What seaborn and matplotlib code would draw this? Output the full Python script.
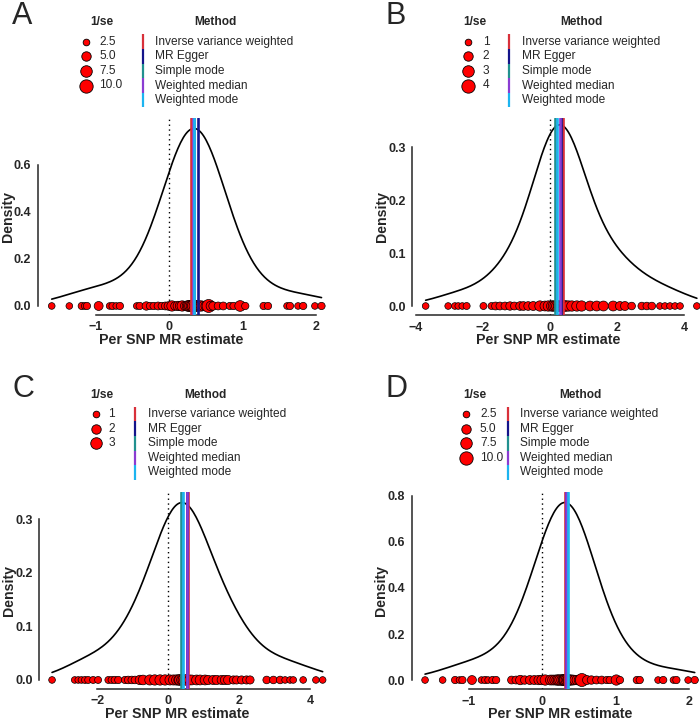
import numpy as np
import matplotlib
matplotlib.use('Agg')
import matplotlib.pyplot as plt
import seaborn as sns

# Dados (estimativas por SNP e 1/se)
beta_a = [-1.60, -1.36, -1.19, -1.15, -1.12, -0.96, -0.81, -0.77, -0.72, -0.67, -0.44, -0.40,
          -0.31, -0.26, -0.21, -0.15, -0.10, -0.05, -0.01, 0.04, 0.08, 0.12, 0.15, 0.18, 0.22,
          0.25, 0.27, 0.29, 0.31, 0.33, 0.35, 0.37, 0.40, 0.42, 0.44, 0.47, 0.50, 0.54, 0.57,
          0.60, 0.67, 0.74, 0.83, 0.88, 0.97, 1.04, 1.29, 1.35, 1.61, 1.65, 1.76, 1.83, 1.99, 2.08]
inv_se_a = [2.5, 2.5, 3.0, 2.5, 3.0, 4.5, 2.5, 3.0, 2.5, 3.0, 2.5, 3.0,
            4.0, 3.0, 3.0, 3.5, 3.0, 3.5, 4.0, 6.0, 4.0, 5.0, 5.0, 6.0, 5.0,
            6.0, 6.5, 7.0, 7.0, 7.5, 7.0, 6.5, 6.0, 5.5, 6.0, 5.0, 5.0, 9.5, 5.0,
            4.0, 3.5, 3.5, 3.0, 3.0, 6.5, 3.0, 3.0, 3.0, 2.5, 3.0, 2.5, 3.0, 2.5, 3.0]

beta_b = [-3.70, -3.03, -2.83, -2.73, -2.61, -2.48, -1.98, -1.74, -1.62, -1.49, -1.34, -1.19,
          -1.06, -0.89, -0.79, -0.65, -0.50, -0.30, -0.15, -0.05, 0.05, 0.10, 0.15, 0.20, 0.25,
          0.28, 0.35, 0.40, 0.45, 0.55, 0.65, 0.80, 0.94, 1.19, 1.39, 1.59, 1.88, 2.08, 2.23,
          2.43, 2.73, 2.88, 3.03, 3.27, 3.42, 3.57, 3.72, 3.87, 4.37]
inv_se_b = [1.0, 1.0, 1.0, 1.0, 1.0, 1.1, 1.1, 1.1, 1.4, 1.4, 1.4, 1.6,
            1.4, 1.7, 1.7, 1.7, 1.8, 2.4, 2.2, 2.4, 2.4, 2.4, 2.4, 2.4, 2.4,
            2.4, 2.4, 2.4, 2.7, 2.4, 2.4, 2.4, 2.4, 2.2, 2.2, 2.2, 2.2, 1.8, 1.8,
            1.3, 1.3, 1.3, 1.3, 1.0, 1.0, 1.0, 1.0, 1.0, 1.0]

beta_c = [-3.28, -2.64, -2.54, -2.45, -2.35, -2.26, -2.12, -1.98, -1.69, -1.60, -1.51, -1.41,
          -1.22, -1.13, -1.03, -0.94, -0.80, -0.71, -0.52, -0.38, -0.23, -0.09, 0.05, 0.15,
          0.24, 0.30, 0.33, 0.38, 0.42, 0.47, 0.52, 0.60, 0.66, 0.80, 0.90, 1.04, 1.13, 1.27,
          1.37, 1.51, 1.60, 1.69, 1.84, 1.93, 2.07, 2.21, 2.31, 2.78, 2.97, 3.16, 3.30, 3.44,
          3.53, 3.81, 4.17, 4.36]
inv_se_c = [1.0, 1.0, 1.0, 1.0, 1.1, 1.1, 1.1, 1.1, 1.1, 1.1, 1.2, 1.2,
            1.2, 1.3, 1.3, 1.3, 2.0, 2.1, 2.3, 2.4, 2.4, 2.4, 2.3, 2.3,
            2.4, 2.3, 2.6, 2.3, 2.3, 2.3, 2.5, 2.2, 2.2, 2.2, 2.2, 2.2, 1.9, 1.9,
            1.9, 1.9, 1.9, 1.9, 1.5, 1.5, 1.5, 1.5, 1.5, 1.3, 1.3, 1.3, 1.0, 1.0,
            1.0, 1.0, 1.0, 1.0]

beta_d = [-1.60, -1.36, -1.19, -1.13, -1.09, -0.96, -0.83, -0.78, -0.74, -0.68, -0.63, -0.42,
          -0.36, -0.30, -0.24, -0.17, -0.11, -0.05, -0.01, 0.04, 0.11, 0.14, 0.17, 0.20, 0.22,
          0.24, 0.27, 0.29, 0.30, 0.31, 0.33, 0.35, 0.36, 0.38, 0.40, 0.42, 0.44, 0.47, 0.50,
          0.54, 0.61, 0.67, 0.74, 0.81, 0.88, 0.92, 1.01, 1.06, 1.29, 1.33, 1.58, 1.65, 1.79,
          1.83, 1.99, 2.08]
inv_se_d = [2.5, 2.5, 3.0, 2.5, 3.0, 4.5, 2.5, 3.0, 2.5, 3.0, 3.0, 3.5,
            3.5, 5.0, 4.0, 4.5, 4.5, 5.0, 5.0, 6.0, 5.5, 5.5, 5.5, 6.0, 6.0,
            6.0, 6.5, 6.5, 6.5, 6.5, 6.5, 6.5, 6.0, 6.0, 5.5, 5.5, 5.0, 5.0, 5.0,
            9.5, 4.5, 4.0, 3.5, 3.5, 3.0, 3.0, 6.0, 3.0, 3.0, 3.0, 2.5, 3.0, 2.5,
            3.0, 2.5, 3.0]

# Estimativas dos métodos MR (linhas verticais)
metodos = ['Inverse variance weighted', 'MR Egger', 'Simple mode', 'Weighted median', 'Weighted mode']
cores_metodos = ['#d8303a', '#14148a', '#21908f', '#8a3cd2', '#1cb4f0']
mr_a = [0.30, 0.39, 0.34, 0.33, 0.345]
mr_b = [0.40, 0.32, 0.15, 0.30, 0.20]
mr_c = [0.56, 0.54, 0.37, 0.52, 0.43]
mr_d = [0.31, 0.33, 0.34, 0.33, 0.35]

# Valores da legenda de tamanho (1/se)
legenda_a = [2.5, 5.0, 7.5, 10.0]
legenda_b = [1, 2, 3, 4]
legenda_c = [1, 2, 3]
legenda_d = [2.5, 5.0, 7.5, 10.0]

# Ticks dos eixos
xticks_a = [-1, 0, 1, 2]
yticks_a = [0.0, 0.2, 0.4, 0.6]
xticks_b = [-4, -2, 0, 2, 4]
yticks_b = [0.0, 0.1, 0.2, 0.3]
xticks_c = [-2, 0, 2, 4]
yticks_c = [0.0, 0.1, 0.2, 0.3]
xticks_d = [-1, 0, 1, 2]
yticks_d = [0.0, 0.2, 0.4, 0.6, 0.8]

LARGURA, ALTURA = 700, 720
S_MAX = 92  # area (pt^2) do maior circulo da legenda


def caixa(l, r, t, b):
    # converte pixels em fração da figura
    return [l / LARGURA, 1 - b / ALTURA, (r - l) / LARGURA, (b - t) / ALTURA]


def desenhar_painel(fig, pos, xlim, ylim, beta, inv_se, mr, norm_max, xticks, yticks, bw, xlab_pos):
    ax = fig.add_axes(pos)
    ax.axvline(0, color='black', linestyle=(0, (1, 2.5)), lw=1.0, zorder=1)
    # densidade ponderada por 1/se^2
    sns.kdeplot(x=beta, weights=np.square(inv_se), cut=0, bw_adjust=bw, color='black', lw=1.2, ax=ax, zorder=2)
    sns.scatterplot(x=beta, y=np.zeros(len(beta)), size=inv_se, sizes=(0, S_MAX), size_norm=(0, norm_max),
                    color='#ff0000', edgecolor='black', linewidth=0.5, legend=False, ax=ax, zorder=3)
    for valor, cor in zip(mr, cores_metodos):
        ax.axvline(valor, color=cor, lw=1.9, zorder=4)
    ax.set_xlim(xlim)
    ax.set_ylim(ylim)
    ax.set_xticks(xticks)
    ax.set_yticks(yticks)
    ax.set_xticklabels([f'{t:g}'.replace('-', '\u2212') for t in xticks])
    ax.set_yticklabels([f'{t:.1f}' for t in yticks])
    for s in ['top', 'right']:
        ax.spines[s].set_visible(False)
    ax.spines['bottom'].set_bounds(xticks[0], xticks[-1])
    ax.spines['left'].set_bounds(yticks[0], yticks[-1])
    for s in ['bottom', 'left']:
        ax.spines[s].set_linewidth(1.1)
    ax.tick_params(length=3.5, width=1.1, pad=1.2, labelsize=9)
    for lab in ax.get_xticklabels() + ax.get_yticklabels():
        lab.set_fontweight('bold')
    ax.set_xlabel('Per SNP MR estimate', fontsize=10.3, fontweight='bold')
    ax.set_ylabel('Density', fontsize=10.2, fontweight='bold')
    ax.xaxis.set_label_coords(xlab_pos, -0.09)
    ax.yaxis.set_label_coords(-0.078, 0.5)
    ax.set_facecolor('none')
    return ax


def desenhar_legenda(ov, letra, lx, ly, tx, cx, nx, bx, mx, y0, valores, norm_max, fmt):
    ov.text(lx, ly, letra, fontsize=22, ha='left', va='top')
    passo = 14.6
    ov.text(tx, y0 - 19.5, '1/se', fontsize=8.6, fontweight='bold', ha='left', va='center')
    ov.text(mx, y0 - 19.5, 'Method', fontsize=8.6, fontweight='bold', ha='center', va='center')
    for i, v in enumerate(valores):
        y = y0 + i * passo
        ov.scatter([cx], [y], s=S_MAX * v / norm_max, color='#ff0000', edgecolor='black', linewidth=0.6)
        ov.text(nx, y, fmt.format(v), fontsize=8.6, ha='left', va='center')
    for i, (nome, cor) in enumerate(zip(metodos, cores_metodos)):
        y = y0 + i * passo
        ov.plot([bx, bx], [y - passo / 2, y + passo / 2], color=cor, lw=1.6, solid_capstyle='butt')
        ov.text(bx + 12.5, y, nome, fontsize=8.6, ha='left', va='center')


def main():
    sns.set_style('white')
    plt.rcParams['font.family'] = ['Liberation Sans', 'DejaVu Sans']
    fig = plt.figure(figsize=(7, 7.2), dpi=100)

    # eixo de sobreposição para letras e legendas (coordenadas em pixels)
    ov = fig.add_axes([0, 0, 1, 1])
    ov.set_xlim(0, LARGURA)
    ov.set_ylim(ALTURA, 0)
    ov.axis('off')

    desenhar_painel(fig, caixa(37.8, 334.7, 118, 314.9), (-1.79, 2.26), (-0.038, 0.80),
                    beta_a, inv_se_a, mr_a, 10, xticks_a, yticks_a, 1.3, 0.45)
    desenhar_painel(fig, caixa(412.2, 710.3, 118.2, 315), (-4.10, 4.77), (-0.017, 0.355),
                    beta_b, inv_se_b, mr_b, 4, xticks_b, yticks_b, 1.0, 0.456)
    desenhar_painel(fig, caixa(39.3, 336.1, 491.5, 688.9), (-3.64, 4.74), (-0.0167, 0.352),
                    beta_c, inv_se_c, mr_c, 4, xticks_c, yticks_c, 1.0, 0.464)
    desenhar_painel(fig, caixa(411.5, 709, 491.6, 689), (-1.785, 2.275), (-0.039, 0.819),
                    beta_d, inv_se_d, mr_d, 10, xticks_d, yticks_d, 1.3, 0.5)

    desenhar_legenda(ov, 'A', 12, 1, 90, 86, 99.3, 142.7, 215, 41.7, legenda_a, 10, '{:.1f}')
    desenhar_legenda(ov, 'B', 385, 1, 463.3, 468.3, 482.7, 509.3, 581.7, 41.7, legenda_b, 4, '{:d}')
    desenhar_legenda(ov, 'C', 12, 374, 90, 96, 108.3, 135, 205, 414, legenda_c, 4, '{:d}')
    desenhar_legenda(ov, 'D', 385, 374, 463, 466, 480, 508, 580, 414, legenda_d, 10, '{:.1f}')

    fig.savefig('out.png', dpi=100)
    plt.close(fig)


if __name__ == '__main__':
    main()
